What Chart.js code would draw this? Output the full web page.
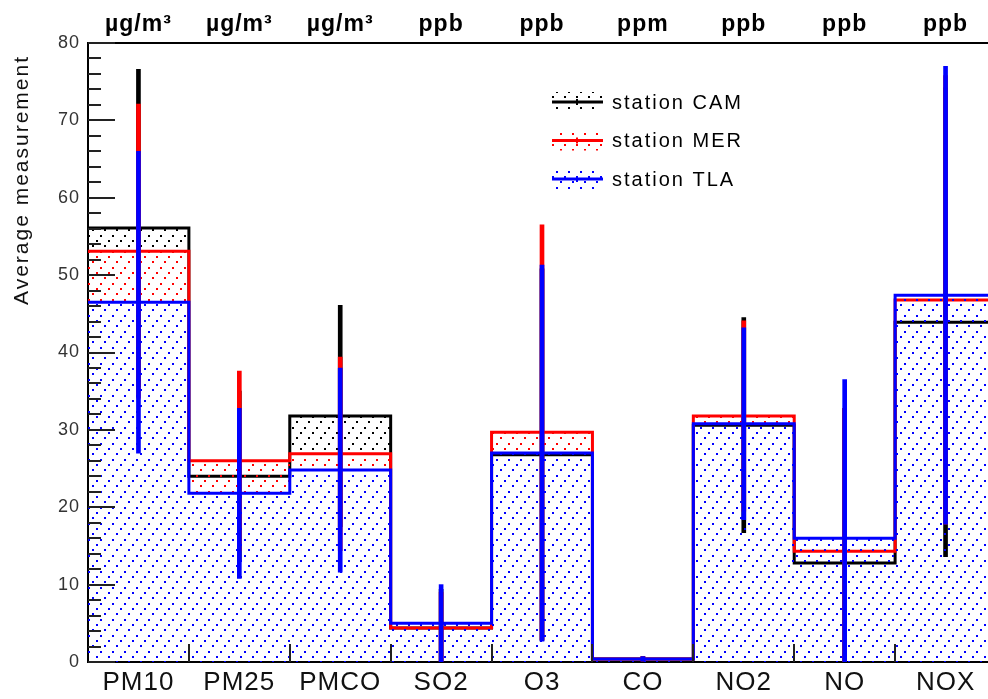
<!DOCTYPE html>
<html>
<head>
<meta charset="utf-8">
<script src="https://cdn.jsdelivr.net/npm/chart.js@4.4.1/dist/chart.umd.min.js"></script>
<style>
    html, body { margin: 0; padding: 0; background: #fff; overflow: hidden; }
    #wrap { width: 1000px; height: 699px; }
</style>
</head>
<body>
<div id="wrap"><canvas id="myChart"></canvas></div>
<script>
const categories = ['PM10', 'PM25', 'PMCO', 'SO2', 'O3', 'CO', 'NO2', 'NO', 'NOX'];
const units = ['µg/m³', 'µg/m³', 'µg/m³', 'ppb', 'ppb', 'ppm', 'ppb', 'ppb', 'ppb'];
const stations = ['station CAM', 'station MER', 'station TLA'];

const camValues = [56.1, 24.0, 31.8, 4.4, 26.8, 0.4, 30.6, 12.8, 43.9];
const camErrors = [20.5, 11.0, 14.3, 5.0, 24.0, 0.3, 13.9, 20.0, 30.3];
const merValues = [53.1, 26.0, 26.9, 4.4, 29.7, 0.4, 31.8, 14.3, 46.8];
const merErrors = [19.0, 11.6, 12.5, 4.6, 26.8, 0.3, 12.3, 18.5, 29.0];
const tlaValues = [46.5, 21.8, 24.8, 5.0, 27.0, 0.4, 30.8, 16.0, 47.4];
const tlaErrors = [19.5, 11.0, 13.2, 5.0, 24.3, 0.3, 12.4, 20.5, 29.6];

const yMin = 0, yMax = 80, yStep = 10, yMinorStep = 2;

const colors = ['#000000', '#ff0000', '#0000ff'];
const series = [camValues, merValues, tlaValues];
const errors = [camErrors, merErrors, tlaErrors];

Chart.defaults.font.family = "'Liberation Sans', Arial, sans-serif";

// ROOT-like dotted fill, same grid for every colour so later ones cover earlier ones
function dotPattern(color) {
    const tile = document.createElement('canvas');
    tile.width = 12;
    tile.height = 16;
    const g = tile.getContext('2d');
    g.fillStyle = color;
    g.fillRect(0, 0, 2, 2);
    g.fillRect(8, 5, 2, 2);
    g.fillRect(4, 11, 2, 2);
    return g.createPattern(tile, 'repeat');
}
const patterns = colors.map(dotPattern);

function stepPoints(values) {
    const pts = values.map((v, i) => ({ x: i, y: v }));
    pts.push({ x: values.length, y: values[values.length - 1] });
    return pts;
}

function errorBars(values, errs) {
    return values.map((v, i) => ({ x: i + 0.5, y: [Math.max(yMin, v - errs[i]), v + errs[i]] }));
}

const datasets = [];
series.forEach((values, s) => {
    datasets.push({
        type: 'line',
        label: stations[s],
        data: stepPoints(values),
        stepped: true,
        borderColor: colors[s],
        borderWidth: 3,
        backgroundColor: patterns[s],
        fill: 'origin',
        pointRadius: 0,
        order: 6 - 2 * s
    });
    datasets.push({
        type: 'bar',
        label: stations[s] + ' error',
        data: errorBars(values, errors[s]),
        backgroundColor: colors[s],
        borderWidth: 0,
        barThickness: 4,
        grouped: false,
        order: 5 - 2 * s
    });
});

const textSpacing = {
    id: 'textSpacing',
    beforeDraw(chart) {
        chart.ctx.letterSpacing = '1px';
    }
};

function line(ctx, x1, y1, x2, y2) {
    ctx.beginPath();
    ctx.moveTo(x1, y1);
    ctx.lineTo(x2, y2);
    ctx.stroke();
}

// ticks pointing into the frame, legend and y title like the ROOT canvas
const rootDecor = {
    id: 'rootDecor',
    afterDraw(chart) {
        const ctx = chart.ctx;
        const x = chart.scales.x;
        const y = chart.scales.y;
        ctx.save();
        ctx.strokeStyle = '#222';
        ctx.lineWidth = 2;
        for (let v = yMin; v <= yMax; v += yMinorStep) {
            const py = Math.round(y.getPixelForValue(v));
            const len = v % yStep === 0 ? 27 : 13;
            line(ctx, x.left, py, x.left + len, py);
        }
        for (let i = 1; i < categories.length; i++) {
            const px = Math.round(x.getPixelForValue(i));
            line(ctx, px, y.bottom, px, y.bottom - 18);
        }

        stations.forEach((name, s) => {
            const cy = 102 + s * 38.5;
            ctx.fillStyle = patterns[s];
            ctx.fillRect(552, cy - 10, 51, 20);
            ctx.strokeStyle = colors[s];
            ctx.lineWidth = 3;
            line(ctx, 552, cy, 603, cy);
            ctx.lineWidth = 2;
            line(ctx, 577, cy - 3, 577, cy + 3);
            ctx.fillStyle = '#000';
            ctx.font = '20px "Liberation Sans"';
            ctx.letterSpacing = '2px';
            ctx.textAlign = 'left';
            ctx.textBaseline = 'middle';
            ctx.fillText(name, 612, cy + 1);
        });

        ctx.translate(22, 305);
        ctx.rotate(-Math.PI / 2);
        ctx.fillStyle = '#111';
        ctx.font = '21px "Liberation Sans"';
        ctx.letterSpacing = '2px';
        ctx.textAlign = 'left';
        ctx.textBaseline = 'middle';
        ctx.fillText('Average measurement', 0, 0);
        ctx.restore();
    }
};

const centerTicks = s => { s.ticks = categories.map((c, i) => ({ value: i + 0.5 })); };

const ctx = document.getElementById('myChart');
new Chart(ctx, {
    type: 'line',
    data: { datasets: datasets },
    options: {
        responsive: true,
        maintainAspectRatio: false,
        animation: false,
        events: [],
        layout: { padding: { right: 4 } },
        plugins: {
            legend: { display: false },
            tooltip: { enabled: false }
        },
        scales: {
            x: {
                type: 'linear',
                position: 'bottom',
                min: 0,
                max: categories.length,
                offset: false,
                z: 1,
                grid: { display: false, drawTicks: false, offset: false },
                border: { display: true, color: '#000', width: 2 },
                afterBuildTicks: centerTicks,
                afterFit: s => { s.height = 37; },
                ticks: {
                    autoSkip: false,
                    maxRotation: 0,
                    padding: 5,
                    color: '#111',
                    font: { size: 26 },
                    callback: (v, i) => categories[i]
                }
            },
            x2: {
                type: 'linear',
                position: 'top',
                min: 0,
                max: categories.length,
                offset: false,
                z: 1,
                grid: { display: false, drawTicks: false },
                border: { display: true, color: '#000', width: 2 },
                afterBuildTicks: centerTicks,
                afterFit: s => { s.height = 43; },
                ticks: {
                    autoSkip: false,
                    maxRotation: 0,
                    padding: 5,
                    color: '#000',
                    font: { size: 23, weight: 'bold' },
                    callback: (v, i) => units[i]
                }
            },
            y: {
                type: 'linear',
                position: 'left',
                min: yMin,
                max: yMax,
                z: 1,
                grid: { display: false, drawTicks: false },
                border: { display: true, color: '#000', width: 2 },
                afterFit: s => { s.width = 88; },
                ticks: {
                    stepSize: yStep,
                    padding: 8,
                    color: '#333',
                    font: { size: 18 }
                }
            }
        }
    },
    plugins: [textSpacing, rootDecor]
});
</script>
</body>
</html>
